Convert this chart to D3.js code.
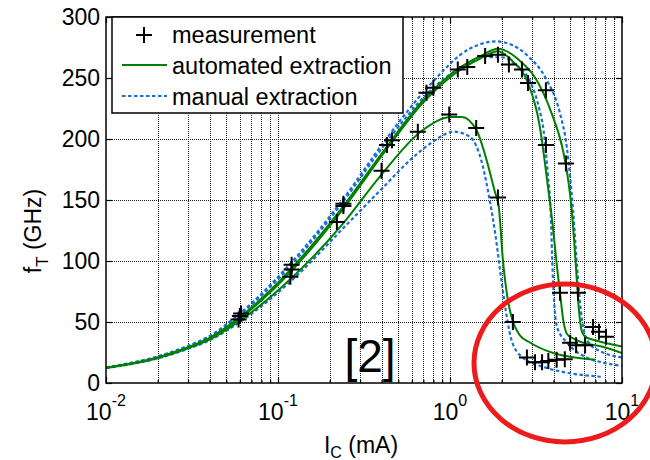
<!DOCTYPE html>
<html>
<head>
<meta charset="utf-8">
<script src="https://cdn.jsdelivr.net/npm/d3@7/dist/d3.min.js"></script>
<style>
  html, body { margin: 0; padding: 0; background: #fff; }
  svg { display: block; font-family: "Liberation Sans", Arial, Helvetica, sans-serif; }
</style>
</head>
<body>
<svg id="chart" width="650" height="460"></svg>
<script>
// Transit frequency fT versus collector current IC (log scale)
const xMajorTicks = [0.01, 0.1, 1, 10];
const xTickExponents = ["-2", "-1", "0", "1"];
const yTicks = [0, 50, 100, 150, 200, 250, 300];

// measured points [IC (mA), fT (GHz)]
const measurement = [
  [0.059, 52], [0.06, 55], [0.061, 57],
  [0.118, 87], [0.12, 93], [0.12, 97],
  [0.22, 132], [0.24, 145], [0.24, 147],
  [0.40, 174], [0.43, 195], [0.46, 199],
  [0.65, 206], [0.73, 238], [0.80, 242],
  [0.99, 220], [1.11, 257], [1.26, 259],
  [1.42, 209], [1.60, 268], [1.90, 269],
  [1.90, 152], [2.20, 261], [2.62, 257], [2.84, 246],
  [3.61, 240], [3.61, 195], [4.72, 180],
  [2.32, 50], [4.36, 74], [5.55, 74],
  [2.80, 21], [3.12, 17], [3.43, 17], [3.73, 18], [4.17, 19], [4.65, 19.5],
  [4.99, 33], [5.41, 31], [6.10, 31],
  [6.78, 46], [7.35, 42], [8.07, 38]
];

// automated extraction (three devices)
const autoLow = [
  [0.01, 12.3], [0.02, 20.5], [0.03, 28.5], [0.04, 35.5], [0.06, 51], [0.12, 86],
  [0.24, 131], [0.39, 169], [0.69, 207], [1.02, 218], [1.17, 218], [1.43, 207],
  [1.60, 187], [1.83, 156], [1.92, 145], [2.03, 101], [2.17, 68], [2.28, 54],
  [2.55, 39], [2.93, 33], [3.98, 24.6], [4.99, 21.5], [7.0, 19]
];
const autoMid = [
  [0.01, 12.5], [0.02, 20.8], [0.03, 29], [0.04, 36.5], [0.06, 53], [0.12, 92],
  [0.24, 143], [0.42, 190], [0.7, 230], [1.1, 255], [1.5, 266], [1.9, 272],
  [2.3, 264], [2.8, 248], [3.33, 210], [3.53, 185], [3.78, 152], [3.95, 130],
  [4.19, 95], [4.36, 74], [4.55, 52], [4.8, 40], [5.2, 36.5], [5.68, 34],
  [7.8, 29.5], [10, 24.6]
];
const autoHigh = [
  [0.01, 12.5], [0.02, 21], [0.03, 29.3], [0.04, 37], [0.06, 54], [0.12, 94],
  [0.24, 145], [0.42, 192], [0.7, 232], [1.1, 257], [1.5, 268], [1.9, 274],
  [2.6, 263], [3.1, 251], [3.9, 221], [4.5, 193], [4.8, 172], [5.1, 142],
  [5.4, 95], [5.6, 62], [5.85, 42], [6.1, 38], [7, 35], [10, 30]
];

// manual extraction (three devices)
const manualLow = [
  [0.01, 12.3], [0.02, 20.2], [0.03, 28], [0.04, 35], [0.06, 50], [0.12, 84],
  [0.24, 127], [0.4, 159], [0.6, 184], [0.8, 198], [1.05, 206], [1.3, 202],
  [1.55, 178], [1.7, 150], [1.83, 123], [2.0, 82], [2.14, 54], [2.28, 35],
  [2.64, 21], [3.66, 12.3], [5, 8], [7.7, 5]
];
const manualMid = [
  [0.01, 12.7], [0.02, 21.6], [0.03, 30], [0.04, 38], [0.06, 56], [0.12, 97],
  [0.24, 149], [0.42, 196], [0.76, 239], [1.2, 260], [1.6, 267], [2.0, 267],
  [2.4, 261], [2.95, 246], [3.3, 225], [3.5, 207], [3.7, 172], [3.85, 140],
  [3.95, 92], [4.19, 46], [4.8, 33], [6.2, 21], [7.6, 17], [10, 14]
];
const manualHigh = [
  [0.01, 12.8], [0.02, 21.8], [0.03, 30.5], [0.04, 38.5], [0.06, 57], [0.12, 99],
  [0.24, 151], [0.42, 199], [0.76, 244], [1.3, 274], [1.85, 280], [2.3, 277],
  [2.84, 268], [3.66, 248], [4.36, 221], [4.78, 193], [4.99, 169], [5.19, 142],
  [5.45, 100], [5.68, 68], [6.05, 41], [6.5, 32], [7.5, 26], [10, 21]
];

const legendLabels = ["measurement", "automated extraction", "manual extraction"];
const annotation = "[2]";

const GREEN = "#008000";
const BLUE = "#1a6fd6";

const svg = d3.select("#chart");
const plotLeft = 106, plotRight = 622, plotTop = 17, plotBottom = 383;

const x = d3.scaleLog().domain([0.01, 10]).range([plotLeft, plotRight]);
const y = d3.scaleLinear().domain([0, 300]).range([plotBottom, plotTop]);

// minor log ticks 2..9 in every decade
const xMinorTicks = [];
[0.01, 0.1, 1].forEach(d => { for (let k = 2; k <= 9; k++) xMinorTicks.push(d * k); });

svg.append("defs").append("clipPath").attr("id", "plotClip")
  .append("rect").attr("x", plotLeft).attr("y", plotTop)
  .attr("width", plotRight - plotLeft).attr("height", plotBottom - plotTop);

// dotted grid
const grid = svg.append("g").attr("stroke", "#222")
  .attr("stroke-width", 1).attr("stroke-dasharray", "1,1");
grid.selectAll("line.v").data(xMinorTicks.concat([0.1, 1])).join("line")
  .attr("x1", d => Math.round(x(d)) + 0.5).attr("x2", d => Math.round(x(d)) + 0.5)
  .attr("y1", plotTop).attr("y2", plotBottom);
grid.selectAll("line.h").data(yTicks.slice(1, -1)).join("line")
  .attr("y1", d => Math.round(y(d)) + 0.5).attr("y2", d => Math.round(y(d)) + 0.5)
  .attr("x1", plotLeft).attr("x2", plotRight);

// tick marks on all four sides, pointing inward
function styleAxis(g) {
  g.select(".domain").remove();
  g.selectAll(".tick line").attr("stroke", "#000").attr("stroke-width", 1.2);
  g.selectAll(".tick text").attr("fill", "#000");
}
svg.append("g").attr("transform", `translate(0,${plotBottom})`)
  .call(d3.axisBottom(x).tickValues(xMajorTicks).tickSize(-6).tickFormat("")).call(styleAxis);
svg.append("g").attr("transform", `translate(0,${plotBottom})`)
  .call(d3.axisBottom(x).tickValues(xMinorTicks).tickSize(-3).tickFormat("")).call(styleAxis);
svg.append("g").attr("transform", `translate(0,${plotTop})`)
  .call(d3.axisTop(x).tickValues(xMajorTicks).tickSize(-6).tickFormat("")).call(styleAxis);
svg.append("g").attr("transform", `translate(0,${plotTop})`)
  .call(d3.axisTop(x).tickValues(xMinorTicks).tickSize(-3).tickFormat("")).call(styleAxis);
svg.append("g").attr("transform", `translate(${plotLeft},0)`)
  .call(d3.axisLeft(y).tickValues(yTicks).tickSize(-6).tickPadding(6).tickFormat(d3.format("d")))
  .call(styleAxis)
  .call(g => g.selectAll(".tick text").attr("font-size", 23)
    .attr("font-family", "'Liberation Sans', Arial, sans-serif"));
svg.append("g").attr("transform", `translate(${plotRight},0)`)
  .call(d3.axisRight(y).tickValues(yTicks).tickSize(-6).tickFormat("")).call(styleAxis);

// curves
const line = d3.line().x(d => x(d[0])).y(d => y(d[1])).curve(d3.curveMonotoneX);
const curves = svg.append("g").attr("clip-path", "url(#plotClip)").attr("fill", "none");
[manualLow, manualMid, manualHigh].forEach(s => {
  curves.append("path").datum(s).attr("d", line)
    .attr("stroke", BLUE).attr("stroke-width", 2.2).attr("stroke-dasharray", "3.5,2.5");
});
[autoLow, autoMid, autoHigh].forEach(s => {
  curves.append("path").datum(s).attr("d", line)
    .attr("stroke", GREEN).attr("stroke-width", 2);
});

// measurement crosses
const plus = (g, cx, cy, r) => {
  g.append("path").attr("d", `M${cx - r},${cy}H${cx + r}M${cx},${cy - r}V${cy + r}`)
    .attr("stroke", "#000").attr("stroke-width", 2).attr("fill", "none");
};
const marks = svg.append("g");
measurement.forEach(d => plus(marks, x(d[0]), y(d[1]), 8));

// frame
svg.append("rect").attr("x", plotLeft).attr("y", plotTop)
  .attr("width", plotRight - plotLeft).attr("height", plotBottom - plotTop)
  .attr("fill", "none").attr("stroke", "#000").attr("stroke-width", 1.5);

// x tick labels 10^n
const xl = svg.append("g").attr("font-size", 23).attr("fill", "#000");
xMajorTicks.forEach((v, i) => {
  const t = xl.append("text").attr("x", x(v)).attr("y", 420).attr("text-anchor", "middle");
  t.append("tspan").text("10");
  t.append("tspan").attr("dy", -14).attr("font-size", 16).text(xTickExponents[i]);
});

// axis titles
const xt = svg.append("text").attr("x", 361).attr("y", 453).attr("text-anchor", "middle")
  .attr("font-size", 23).attr("fill", "#000");
xt.append("tspan").text("I");
xt.append("tspan").attr("dy", 5).attr("font-size", 16).text("C");
xt.append("tspan").attr("dy", -5).text(" (mA)");

const yt = svg.append("text").attr("transform", "translate(41,231) rotate(-90)")
  .attr("text-anchor", "middle").attr("font-size", 23).attr("fill", "#000");
yt.append("tspan").text("f");
yt.append("tspan").attr("dy", 7).attr("font-size", 17).text("T");
yt.append("tspan").attr("dy", -7).text(" (GHz)");

// legend
const lg = svg.append("g");
lg.append("rect").attr("x", 112).attr("y", plotTop).attr("width", 291).attr("height", 96)
  .attr("fill", "#fff").attr("stroke", "#000").attr("stroke-width", 1.5);
plus(lg, 144, 35, 8);
lg.append("line").attr("x1", 122).attr("x2", 167).attr("y1", 65).attr("y2", 65)
  .attr("stroke", GREEN).attr("stroke-width", 2);
lg.append("line").attr("x1", 122).attr("x2", 167).attr("y1", 96).attr("y2", 96)
  .attr("stroke", BLUE).attr("stroke-width", 2.2).attr("stroke-dasharray", "3.5,2.5");
legendLabels.forEach((t, i) => {
  lg.append("text").attr("x", 172).attr("y", 43 + i * 31)
    .attr("font-size", 23.5).attr("fill", "#000").text(t);
});

// reference tag
svg.append("text").attr("x", 370).attr("y", 372).attr("text-anchor", "middle")
  .attr("font-size", 46).attr("fill", "#000").text(annotation);

// highlight ring around the high-current tails
svg.append("ellipse").attr("cx", 565).attr("cy", 363).attr("rx", 91).attr("ry", 79)
  .attr("fill", "none").attr("stroke", "#ec1c1c").attr("stroke-width", 5);
</script>
</body>
</html>
